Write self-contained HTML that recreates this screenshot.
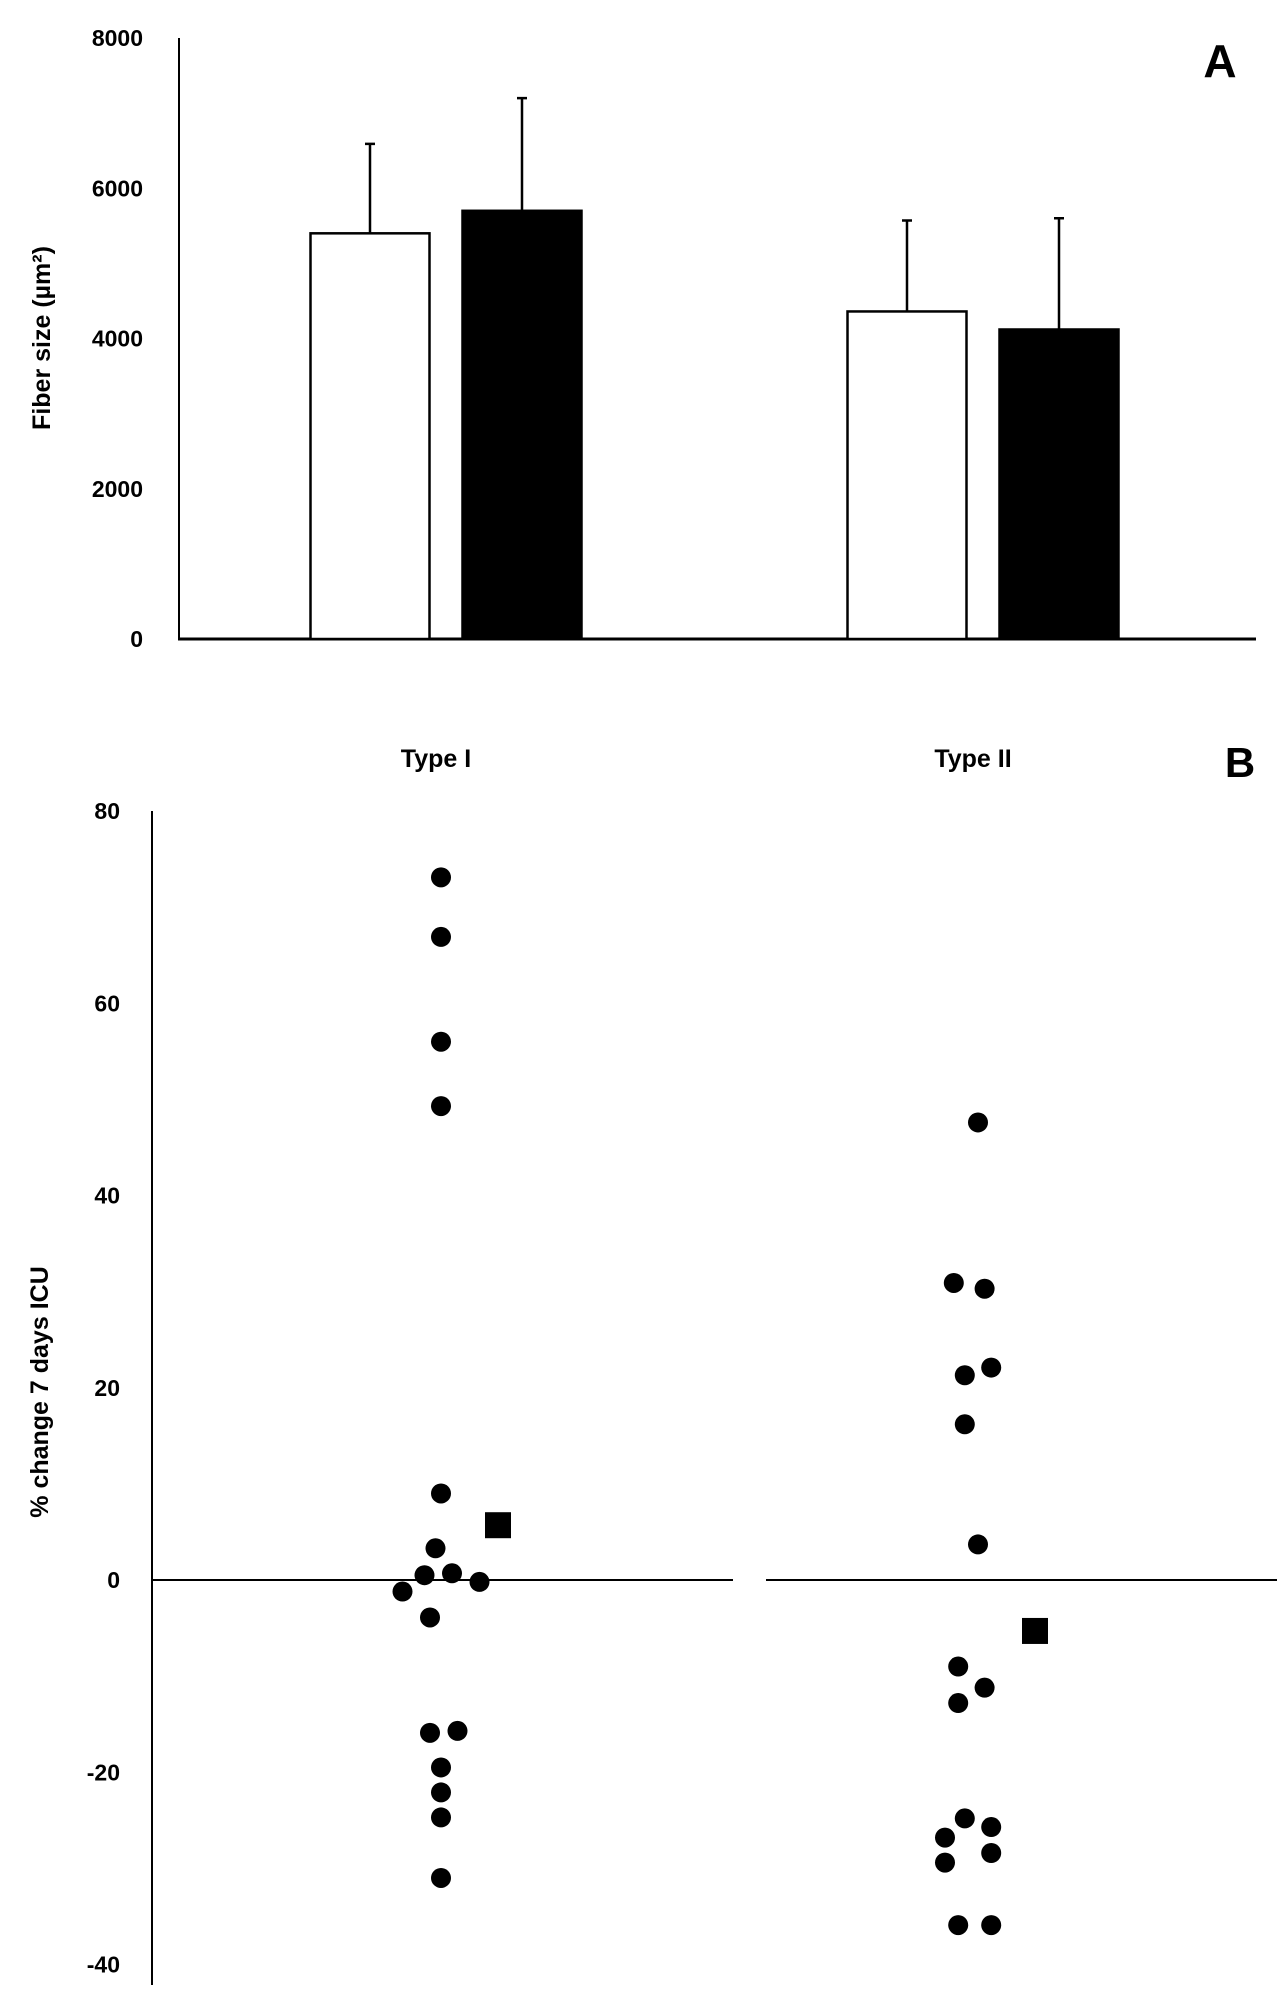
<!DOCTYPE html>
<html><head><meta charset="utf-8">
<style>
html,body{margin:0;padding:0;background:#fff;}
svg{display:block;font-family:"Liberation Sans",sans-serif;}
</style></head>
<body>
<svg id="chart" width="1277" height="1990" viewBox="0 0 1277 1990" xmlns="http://www.w3.org/2000/svg">
<g id="pa"></g>
<g id="pb"></g>
</svg>
<script>
// Panel A data
const barGroups = ["Type I", "Type II"];
const controlMeans = [5400, 4360];
const controlErr = [1190, 1210];
const icuMeans = [5700, 4120];
const icuErr = [1500, 1480];
const aTicks = [0, 2000, 4000, 6000, 8000];
// Panel B data
const bCategories = ["Type I", "Type II"];
const typeIValues = [73.1, 66.9, 56.0, 49.3, 9.0, 3.3, 0.5, 0.7, -0.2, -1.2, -3.9, -15.9, -15.7, -19.5, -22.1, -24.7, -31.0];
const typeIJitter = [0, 0, 0, 0, 0, -0.25, -0.75, 0.5, 1.75, -1.75, -0.5, -0.5, 0.75, 0, 0, 0, 0];
const typeIIValues = [47.6, 30.9, 30.3, 21.3, 22.1, 16.2, 3.7, -9.0, -11.2, -12.8, -24.8, -25.7, -26.8, -28.4, -29.4, -35.9, -35.9];
const typeIIJitter = [0, -1.1, 0.3, -0.6, 0.6, -0.6, 0, -0.9, 0.3, -0.9, -0.6, 0.6, -1.5, 0.6, -1.5, -0.9, 0.6];
const meanValues = [5.7, -5.3];
const bTicks = [-40, -20, 0, 20, 40, 60, 80];

const NS = "http://www.w3.org/2000/svg";
function mk(parent, tag, attrs, text){
  const el = document.createElementNS(NS, tag);
  for (const k in attrs) el.setAttribute(k, attrs[k]);
  if (text !== undefined) el.textContent = text;
  parent.appendChild(el);
  return el;
}
const pa = document.getElementById('pa');
const pb = document.getElementById('pb');

// ---- Panel A ----
const ay = v => 639 - v * (601 / 8000);
const groupCenters = [446, 983];
const barW = 119, barGap = 33;
let el;
el = mk(pa, 'line', {x1:179, y1:ay(8000), x2:179, y2:ay(0)+1, stroke:'#000', 'stroke-width':2});


el = mk(pa, 'line', {x1:178, y1:ay(0), x2:1256, y2:ay(0), stroke:'#000', 'stroke-width':3});


aTicks.forEach(t => {
  const tx = mk(pa, 'text', {x:143, y:ay(t)+8, 'text-anchor':'end', 'font-size':23, 'font-weight':'bold'}, String(t));
  
  
});
el = mk(pa, 'text', {x:0, y:0, transform:'translate(50,338) rotate(-90)', 'text-anchor':'middle', 'font-size':25, 'font-weight':'bold'}, 'Fiber size (µm²)');


el = mk(pa, 'text', {x:1220, y:77, 'text-anchor':'middle', 'font-size':46, 'font-weight':'bold'}, 'A');


barGroups.forEach((g, i) => {
  const c = groupCenters[i];
  [[controlMeans, controlErr, '#fff', 'control'], [icuMeans, icuErr, '#000', 'icu']].forEach((s, j) => {
    const x = j === 0 ? c - barGap/2 - barW : c + barGap/2;
    const m = s[0][i], e = s[1][i];
    const b = mk(pa, 'rect', {x:x, y:ay(m), width:barW, height:ay(0)-ay(m), fill:s[2], stroke:'#000', 'stroke-width':2.5});
    
    
    const ex = x + barW/2;
    const er = mk(pa, 'path', {d:`M${ex},${ay(m)} V${ay(m+e)} M${ex-5},${ay(m+e)} H${ex+5}`, stroke:'#000', 'stroke-width':2.5, fill:'none'});
    
    
  });
});

// ---- Panel B ----
const by = v => 1580 - v * (769 / 80);
const catX = [441, 978];
const jitterUnit = 22;
el = mk(pb, 'line', {x1:152, y1:by(80), x2:152, y2:1985, stroke:'#000', 'stroke-width':2});


el = mk(pb, 'line', {x1:152, y1:by(0), x2:733, y2:by(0), stroke:'#000', 'stroke-width':2});


el = mk(pb, 'line', {x1:766, y1:by(0), x2:1277, y2:by(0), stroke:'#000', 'stroke-width':2});


bTicks.forEach(t => {
  const tx = mk(pb, 'text', {x:120, y:by(t)+8, 'text-anchor':'end', 'font-size':23, 'font-weight':'bold'}, String(t));
  
  
});
bCategories.forEach((c, i) => {
  const tx = mk(pb, 'text', {x:catX[i]-5, y:767, 'text-anchor':'middle', 'font-size':25, 'font-weight':'bold'}, c);
  
  
});
el = mk(pb, 'text', {x:1240, y:777, 'text-anchor':'middle', 'font-size':42, 'font-weight':'bold'}, 'B');


el = mk(pb, 'text', {x:0, y:0, transform:'translate(48,1392) rotate(-90)', 'text-anchor':'middle', 'font-size':25, 'font-weight':'bold', 'xml:space':'preserve'}, '% change  7 days ICU');


[[typeIValues, typeIJitter], [typeIIValues, typeIIJitter]].forEach((s, i) => {
  s[0].forEach((v, k) => {
    const d = mk(pb, 'circle', {cx:catX[i] + s[1][k]*jitterUnit, cy:by(v), r:10, fill:'#000'});
    
    
  });
  const sq = mk(pb, 'rect', {x:catX[i]+57-13, y:by(meanValues[i])-13, width:26, height:26, fill:'#000'});
  
  
});
</script>
</body></html>
